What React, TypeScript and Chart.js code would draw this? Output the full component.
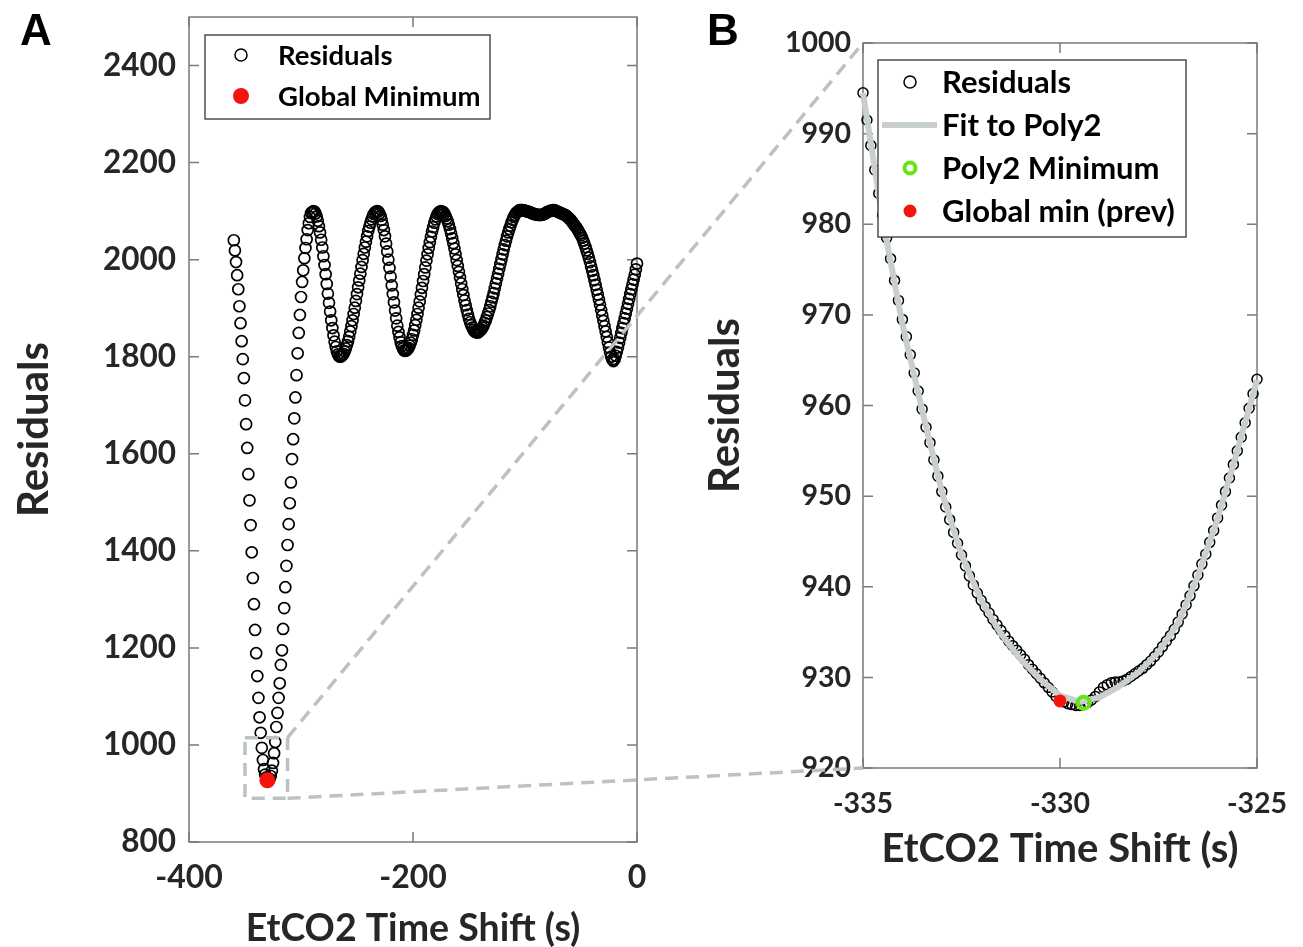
import React, { useEffect, useRef } from 'react';
import { Chart, registerables } from 'chart.js';
Chart.register(...registerables);

// ---------- Panel A data (time shift in 1 s steps, starting at -360 s) ----------
const aShiftStart = -360;
const aResiduals = [
  2040, 2019, 1995, 1968, 1939, 1904, 1869, 1832, 1795, 1756, 1710, 1661, 1612, 1558, 1504, 1453, 1397, 1344, 1290, 1237,
  1189, 1142, 1097, 1057, 1025, 994, 969, 950, 939, 933,
  927, 928, 930, 936, 947, 963, 983, 1006, 1037, 1066, 1097, 1127, 1165, 1195, 1239, 1282, 1325, 1369, 1412, 1455,
  1498, 1541, 1589, 1630, 1673, 1716, 1762, 1807, 1849, 1886, 1923, 1954, 1978, 2003, 2024, 2042, 2061, 2075, 2088, 2096, 2098,
  2100, 2099, 2095, 2089, 2080, 2069, 2056, 2041, 2025, 2007, 1989, 1970, 1950, 1930, 1911, 1893, 1875, 1859, 1844, 1831,
  1820, 1811, 1805, 1801, 1800,
  1801, 1803, 1806, 1811, 1817, 1824, 1832, 1841, 1852, 1863, 1875, 1888, 1901, 1915, 1929, 1943, 1957, 1971, 1985, 1999,
  2012, 2025, 2037, 2048, 2059, 2068, 2076, 2083, 2089, 2094, 2097, 2099, 2100,
  2099, 2095, 2090, 2082, 2072, 2061, 2048, 2033, 2017, 2000, 1983, 1965, 1947, 1929, 1912, 1895, 1879, 1864, 1851, 1840,
  1830, 1822, 1817, 1813, 1812,
  1813, 1815, 1818, 1823, 1829, 1836, 1845, 1854, 1865, 1876, 1888, 1901, 1914, 1928, 1942, 1956, 1970, 1984, 1998, 2011,
  2024, 2036, 2047, 2058, 2067, 2076, 2083, 2089, 2094, 2097, 2099, 2100,
  2099, 2098, 2095, 2090, 2085, 2079, 2072, 2063, 2054, 2044, 2034, 2023, 2011, 1999, 1987, 1975, 1963, 1951, 1939, 1927,
  1916, 1906, 1896, 1887, 1878, 1871, 1865, 1860, 1855, 1852, 1851, 1850,
  1850, 1852, 1854, 1856, 1860, 1864, 1870, 1875, 1882, 1889, 1896, 1904, 1913, 1922, 1931, 1941, 1951, 1961, 1971, 1981,
  1991, 2001, 2011, 2021, 2030, 2039, 2048, 2056, 2063, 2070, 2077, 2082, 2088, 2092, 2096, 2098, 2100, 2102, 2102,
  2102, 2102, 2101, 2101, 2100, 2099, 2099, 2098, 2097, 2096, 2095, 2094, 2094, 2093, 2093, 2092, 2092, 2092, 2093, 2093,
  2094, 2095, 2097, 2098, 2099, 2100, 2101, 2101, 2102, 2102, 2101,
  2100, 2099, 2098, 2097, 2096, 2095, 2094, 2093, 2092, 2090, 2088, 2086, 2084, 2081, 2078, 2075, 2072, 2069, 2066, 2062,
  2058, 2054, 2050, 2045, 2039, 2033, 2026, 2019, 2012, 2004, 1995, 1986, 1977, 1968, 1958, 1948, 1938, 1928, 1918, 1907,
  1896, 1885, 1874, 1863, 1852, 1841, 1830, 1819, 1809, 1800, 1794, 1791,
  1795, 1802, 1810, 1819, 1829, 1839, 1849, 1859, 1869, 1879, 1889, 1899, 1909, 1919, 1929, 1939, 1949, 1959, 1969, 1980, 1992,
];
const aGlobalMinShift = [-330];
const aGlobalMinValue = [927];
const aXTicks = [-400, -200, 0];
const aYTicks = [800, 1000, 1200, 1400, 1600, 1800, 2000, 2200, 2400];
const aXRange = [-400, 0];
const aYRange = [800, 2500];
const zoomBoxX = [-350, -312];
const zoomBoxY = [890, 1015];

// ---------- Panel B data (time shift in 0.1 s steps, starting at -335 s) ----------
const bShiftStart = -335;
const bShiftStep = 0.1;
const bResiduals = [
  994.5, 991.5, 988.7, 986.0, 983.4, 981.0, 978.5, 976.2, 973.8, 971.6,
  969.5, 967.6, 965.6, 963.6, 961.6, 959.6, 957.6, 955.9, 954.0, 952.2,
  950.5, 948.8, 947.4, 946.0, 944.8, 943.5, 942.3, 941.2, 940.2, 939.3,
  938.5, 937.8, 937.1, 936.4, 935.8, 935.2, 934.6, 934.0, 933.5, 933.0,
  932.5, 932.0, 931.4, 930.9, 930.4, 929.9, 929.4, 928.9, 928.4, 927.9,
  927.5, 927.3, 927.1, 927.0, 926.9, 926.9, 927.0, 927.2, 927.5, 927.9,
  928.4, 928.9, 929.2, 929.4, 929.5, 929.5, 929.6, 929.8, 930.1, 930.4,
  930.7, 931.0, 931.4, 931.8, 932.3, 932.8, 933.4, 934.0, 934.6, 935.3,
  936.1, 937.0, 938.0, 939.0, 940.1, 941.3, 942.5, 943.6, 944.9, 946.2,
  947.6, 949.0, 950.5, 952.0, 953.5, 955.0, 956.5, 958.1, 959.7, 961.3,
  962.9,
];
const bFitShift = [-335, -334.5, -334, -333.5, -333, -332.5, -332, -331.5, -331, -330.5, -330, -329.5, -329, -328.5, -328, -327.5, -327, -326.5, -326, -325.5, -325];
const bFitValues = [994.5, 980.5, 969.0, 959.5, 950.5, 943.5, 938.5, 934.8, 932.0, 929.8, 928.0, 927.3, 927.8, 929.0, 930.6, 932.8, 936.0, 941.2, 947.5, 955.0, 962.8];
const bPoly2MinShift = [-329.4];
const bPoly2MinValue = [927.2];
const bPrevMinShift = [-330];
const bPrevMinValue = [927.4];
const bXTicks = [-335, -330, -325];
const bYTicks = [920, 930, 940, 950, 960, 970, 980, 990, 1000];
const bXRange = [-335, -325];
const bYRange = [920, 1000];

// ---------- styling ----------
const FONT = 'Lato, "Open Sans", sans-serif';
const TEXT = '#262626';
const AXIS = '#7a7a7a';
const RED = '#f4140c';
const GREEN = '#66e619';
const FITGRAY = 'rgb(200,207,205)';
const DASHGRAY = 'rgb(186,195,193)';

const W = 1303;
const H = 947;
const A_LEFT = 0, A_W = 660;
const B_LEFT = 680, B_W = 623;

const framePlugin = {
  id: 'frame',
  beforeDatasetsDraw(chart: any, _a: any, opts: any) {
    const { ctx, chartArea } = chart;
    const { left, right, top, bottom } = chartArea;
    const x = chart.scales.x, y = chart.scales.y;
    const L = opts.tickLen || 10;
    ctx.save();
    ctx.strokeStyle = AXIS;
    ctx.lineWidth = 1.5;
    ctx.strokeRect(left, top, right - left, bottom - top);
    ctx.beginPath();
    x.ticks.forEach((t: any) => {
      const px = x.getPixelForValue(t.value);
      ctx.moveTo(px, bottom); ctx.lineTo(px, bottom - L);
      ctx.moveTo(px, top); ctx.lineTo(px, top + L);
    });
    y.ticks.forEach((t: any) => {
      const py = y.getPixelForValue(t.value);
      ctx.moveTo(left, py); ctx.lineTo(left + L, py);
      ctx.moveTo(right, py); ctx.lineTo(right - L, py);
    });
    ctx.stroke();
    ctx.restore();
  },
};

const legendPlugin = {
  id: 'boxLegend',
  afterDraw(chart: any, _a: any, opts: any) {
    if (!opts || !opts.items) return;
    const { ctx, chartArea } = chart;
    const bx = chartArea.left + opts.dx, by = chartArea.top + opts.dy;
    ctx.save();
    ctx.fillStyle = '#fff';
    ctx.fillRect(bx, by, opts.w, opts.h);
    ctx.strokeStyle = '#333';
    ctx.lineWidth = 1.3;
    ctx.strokeRect(bx, by, opts.w, opts.h);
    opts.items.forEach((it: any, i: number) => {
      const cy = by + opts.firstY + i * opts.rowH;
      const cx = bx + opts.iconX;
      if (it.kind === 'circle') {
        ctx.beginPath(); ctx.arc(cx, cy, 6, 0, Math.PI * 2);
        ctx.strokeStyle = '#000'; ctx.lineWidth = 1.5; ctx.stroke();
      } else if (it.kind === 'dot') {
        ctx.beginPath(); ctx.arc(cx, cy, it.r, 0, Math.PI * 2);
        ctx.fillStyle = RED; ctx.fill();
      } else if (it.kind === 'ring') {
        ctx.beginPath(); ctx.arc(cx, cy, 5.5, 0, Math.PI * 2);
        ctx.strokeStyle = GREEN; ctx.lineWidth = 4; ctx.stroke();
      } else if (it.kind === 'line') {
        ctx.beginPath(); ctx.moveTo(bx + opts.lineX0, cy); ctx.lineTo(bx + opts.lineX1, cy);
        ctx.strokeStyle = FITGRAY; ctx.lineWidth = 6; ctx.stroke();
      }
      ctx.fillStyle = '#000';
      ctx.font = `bold ${opts.fontSize}px ${FONT}`;
      ctx.textBaseline = 'middle';
      ctx.textAlign = 'left';
      ctx.fillText(it.text, bx + opts.textX, cy + 1);
    });
    ctx.restore();
  },
};

function axisCommon(range: number[], ticks: number[], tickFont: number, pad: number, title: string, titleFont: number, titlePad: any, size: number, horiz: boolean) {
  return {
    type: 'linear',
    min: range[0],
    max: range[1],
    afterBuildTicks: (s: any) => { s.ticks = ticks.map((v) => ({ value: v })); },
    afterFit: (s: any) => {
      if (horiz) s.height = size; else s.width = size;
      s.paddingTop = 0; s.paddingBottom = 0; s.paddingLeft = 0; s.paddingRight = 0;
    },
    grid: { display: false, drawTicks: false },
    border: { display: false },
    ticks: {
      font: { family: FONT, size: tickFont, weight: 'bold' },
      color: TEXT,
      padding: pad,
      autoSkip: false,
      maxRotation: 0,
      callback: (v: any) => String(v),
    },
    title: {
      display: true,
      text: title,
      color: TEXT,
      font: { family: FONT, size: titleFont, weight: 'bold' },
      padding: titlePad,
    },
  };
}

export default function App() {
  const refA = useRef<HTMLCanvasElement>(null);
  const refB = useRef<HTMLCanvasElement>(null);
  const refO = useRef<HTMLCanvasElement>(null);

  useEffect(() => {
    const aPoints = aResiduals.map((v, i) => ({ x: aShiftStart + i, y: v }));
    const bPoints = bResiduals.map((v, i) => ({ x: Math.round((bShiftStart + i * bShiftStep) * 10) / 10, y: v }));
    const bFit = bFitShift.map((x, i) => ({ x, y: bFitValues[i] }));

    const chartA = new Chart(refA.current as HTMLCanvasElement, {
      type: 'scatter',
      data: {
        datasets: [
          {
            label: 'Global Minimum',
            data: aGlobalMinShift.map((x, i) => ({ x, y: aGlobalMinValue[i] })),
            pointRadius: 8, pointBackgroundColor: RED, pointBorderColor: RED, pointBorderWidth: 0,
            order: 0, clip: false,
          } as any,
          {
            label: 'Residuals',
            data: aPoints,
            pointRadius: 5.5, pointBorderWidth: 1.7, pointBorderColor: '#000', pointBackgroundColor: 'rgba(0,0,0,0)',
            order: 1, clip: false,
          } as any,
        ],
      },
      options: {
        responsive: false, animation: false, devicePixelRatio: 1,
        layout: { padding: { top: 17, right: 23, left: 0, bottom: 0 } },
        plugins: {
          legend: { display: false }, tooltip: { enabled: false },
          frame: { tickLen: 10 },
          boxLegend: {
            dx: 16, dy: 18, w: 285, h: 84, firstY: 20, rowH: 41, iconX: 36, textX: 73, fontSize: 27.5,
            items: [ { kind: 'circle', text: 'Residuals' }, { kind: 'dot', r: 8, text: 'Global Minimum' } ],
          },
        } as any,
        scales: {
          x: axisCommon(aXRange, aXTicks, 32, 16, 'EtCO2 Time Shift (s)', 37.5, { top: 0, bottom: -4 }, 105, true),
          y: axisCommon(aYRange, aYTicks, 31.5, 13, 'Residuals', 42, { top: 9, bottom: 0 }, 189, false),
        } as any,
      },
      plugins: [framePlugin, legendPlugin],
    });

    const chartB = new Chart(refB.current as HTMLCanvasElement, {
      type: 'scatter',
      data: {
        datasets: [
          {
            label: 'Global min (prev)',
            data: bPrevMinShift.map((x, i) => ({ x, y: bPrevMinValue[i] })),
            pointRadius: 6.5, pointBackgroundColor: RED, pointBorderColor: RED, pointBorderWidth: 0,
            order: 0, clip: false,
          } as any,
          {
            label: 'Poly2 Minimum',
            data: bPoly2MinShift.map((x, i) => ({ x, y: bPoly2MinValue[i] })),
            pointRadius: 6, pointBackgroundColor: 'rgba(0,0,0,0)', pointBorderColor: GREEN, pointBorderWidth: 4,
            order: 1, clip: false,
          } as any,
          {
            label: 'Fit to Poly2',
            type: 'line',
            data: bFit,
            showLine: true, borderColor: FITGRAY, borderWidth: 6, pointRadius: 0, tension: 0,
            order: 2, clip: false,
          } as any,
          {
            label: 'Residuals',
            data: bPoints,
            pointRadius: 5, pointBorderWidth: 1.5, pointBorderColor: '#000', pointBackgroundColor: 'rgba(0,0,0,0)',
            order: 3, clip: false,
          } as any,
        ],
      },
      options: {
        responsive: false, animation: false, devicePixelRatio: 1,
        layout: { padding: { top: 43, right: 46, left: 0, bottom: 77 } },
        plugins: {
          legend: { display: false }, tooltip: { enabled: false },
          frame: { tickLen: 10 },
          boxLegend: {
            dx: 15, dy: 17, w: 308, h: 177, firstY: 22, rowH: 43, iconX: 32, textX: 64, fontSize: 31,
            lineX0: 4, lineX1: 59,
            items: [
              { kind: 'circle', text: 'Residuals' },
              { kind: 'line', text: 'Fit to Poly2' },
              { kind: 'ring', text: 'Poly2 Minimum' },
              { kind: 'dot', r: 6.5, text: 'Global min (prev)' },
            ],
          },
        } as any,
        scales: {
          x: axisCommon(bXRange, bXTicks, 28.5, 19, 'EtCO2 Time Shift (s)', 40, { top: 0, bottom: -3 }, 102, true),
          y: axisCommon(bYRange, bYTicks, 28.5, 12, 'Residuals', 42, { top: 20, bottom: 0 }, 183, false),
        } as any,
      },
      plugins: [framePlugin, legendPlugin],
    });

    // overlay: zoom box, connectors and panel letters
    const o = refO.current as HTMLCanvasElement;
    const ctx = o.getContext('2d') as CanvasRenderingContext2D;
    ctx.clearRect(0, 0, W, H);
    const xa = chartA.scales.x, ya = chartA.scales.y;
    const rx0 = A_LEFT + xa.getPixelForValue(zoomBoxX[0]);
    const rx1 = A_LEFT + xa.getPixelForValue(zoomBoxX[1]);
    const ryTop = ya.getPixelForValue(zoomBoxY[1]);
    const ryBot = ya.getPixelForValue(zoomBoxY[0]);
    const ca = chartB.chartArea;
    ctx.save();
    ctx.strokeStyle = DASHGRAY;
    ctx.lineWidth = 3.5;
    ctx.setLineDash([13, 8]);
    ctx.strokeRect(rx0, ryTop, rx1 - rx0, ryBot - ryTop);
    ctx.beginPath();
    ctx.moveTo(rx1, ryTop); ctx.lineTo(B_LEFT + ca.left, ca.top);
    ctx.moveTo(rx1, ryBot); ctx.lineTo(B_LEFT + ca.left, ca.bottom);
    ctx.stroke();
    ctx.restore();
    ctx.fillStyle = '#000';
    ctx.font = 'bold 44px "Liberation Sans", Arial, sans-serif';
    ctx.textBaseline = 'alphabetic';
    ctx.fillText('A', 20, 45);
    ctx.fillText('B', 707, 45);

    return () => { chartA.destroy(); chartB.destroy(); };
  }, []);

  return (
    <div style={{ position: 'absolute', left: 0, top: 0, width: W, height: H, background: '#fff', overflow: 'hidden' }}>
      <canvas ref={refA} width={A_W} height={H} style={{ position: 'absolute', left: A_LEFT, top: 0, width: A_W, height: H }} />
      <canvas ref={refB} width={B_W} height={H} style={{ position: 'absolute', left: B_LEFT, top: 0, width: B_W, height: H }} />
      <canvas ref={refO} width={W} height={H} style={{ position: 'absolute', left: 0, top: 0, width: W, height: H, pointerEvents: 'none' }} />
    </div>
  );
}
